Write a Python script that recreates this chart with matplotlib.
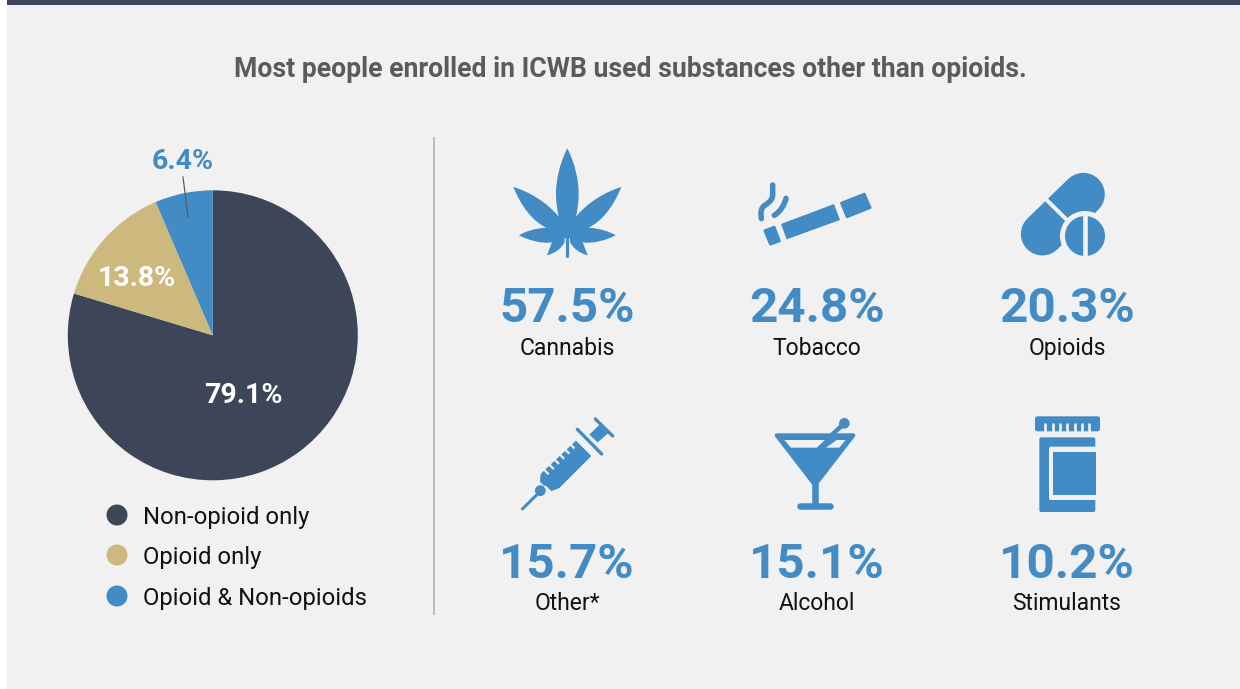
import matplotlib
matplotlib.use("Agg")
import matplotlib.pyplot as plt
from matplotlib.patches import Circle, Polygon, Rectangle, FancyBboxPatch, PathPatch
from matplotlib.path import Path

plt.rcParams['font.family'] = ['Roboto', 'DejaVu Sans']

# Enrolment mix shown in the pie
mix_labels = ["Non-opioid only", "Opioid only", "Opioid & Non-opioids"]
mix_values = [79.1, 13.8, 6.4]

# Substance use rates shown in the icon grid
substances_top = ["Cannabis", "Tobacco", "Opioids"]
rates_top = [57.5, 24.8, 20.3]
substances_bottom = ["Other*", "Alcohol", "Stimulants"]
rates_bottom = [15.7, 15.1, 10.2]

title_text = "Most people enrolled in ICWB used substances other than opioids."

NAVY = "#3d4559"
TAN = "#cdb87e"
BLUE = "#438bc4"
BG = "#f1f1f1"
TITLE_GREY = "#5b5b5b"
INK = "#111111"
PX = 72 / 100  # points per pixel at 100 dpi

fig = plt.figure(figsize=(12.4, 6.89), dpi=100, facecolor="white")
W, H = 1240, 689


def pixel_axes(z):
    a = fig.add_axes([0, 0, 1, 1], zorder=z)
    a.set_xlim(0, W)
    a.set_ylim(H, 0)
    a.axis("off")
    return a


# Panel background sits below the pie; text and icons sit above it
back = pixel_axes(0)
back.add_patch(Rectangle((7, 0), W - 7, H, fc=BG, ec="none"))
back.add_patch(Rectangle((7, 0), W - 7, 5, fc=NAVY, ec="none"))

cx, cy, r = 212.8, 335.3, 145
pie_ax = fig.add_axes([(cx - r) / W, 1 - (cy + r) / H, 2 * r / W, 2 * r / H], zorder=1)
pie_ax.pie(mix_values, colors=[NAVY, TAN, BLUE], startangle=90, counterclock=False,
           radius=1.0, wedgeprops=dict(linewidth=0))
pie_ax.set_xlim(-1, 1)
pie_ax.set_ylim(-1, 1)

ax = pixel_axes(2)
ax.plot([434, 434], [137, 615], color="#bcbcbc", lw=2 * PX, solid_capstyle="butt", zorder=1)

ax.text(630, 77, title_text, ha="center", va="baseline", fontsize=19.15,
        fontweight="bold", color=TITLE_GREY)

pie_label_pos = [(243, 403, "white"), (137, 286, "white"), (183, 169, BLUE)]
for v, (x, y, c) in zip(mix_values, pie_label_pos):
    ax.text(x, y, f"{v}%", ha="center", va="baseline", fontsize=20.5, fontweight="bold", color=c)
ax.plot([183, 188], [177, 217], color="#565b66", lw=1.2 * PX, zorder=3)

legend_y = [515, 555, 596]
for name, c, y in zip(mix_labels, [NAVY, TAN, BLUE], legend_y):
    ax.add_patch(Circle((117, y), 10.5, fc=c, ec="none"))
    ax.text(143, y + 9, name, ha="left", va="baseline", fontsize=17.2, color=INK)

# Icon grid: rate in large blue figures and the substance name below
col_x = [567, 817, 1067]
for names, rates, y_rate, y_name in [(substances_top, rates_top, 322.5, 355),
                                     (substances_bottom, rates_bottom, 577.5, 610)]:
    for x, n, v in zip(col_x, names, rates):
        ax.text(x, y_rate, f"{v}%", ha="center", va="baseline", fontsize=35.6,
                fontweight="bold", color=BLUE)
        ax.text(x, y_name, n, ha="center", va="baseline", fontsize=16.5, color=INK)


def frame(ox, oy):
    """Return a mapper from 3x icon-sketch units to canvas pixels."""
    return lambda x, y: (ox + x / 3, oy + y / 3)


def poly(f, pts, color=BLUE, round_px=0, z=4):
    ax.add_patch(Polygon([f(*p) for p in pts], closed=True, fc=color,
                         ec=color if round_px else "none", lw=round_px * PX,
                         joinstyle="round", zorder=z))


def stroke(f, pts, width_px, color=BLUE, cap="round", z=4):
    xs, ys = zip(*[f(*p) for p in pts])
    ax.plot(xs, ys, color=color, lw=width_px * PX, solid_capstyle=cap, zorder=z)


def curve(f, start, segs, color=BLUE, z=4):
    """Filled shape from cubic segments given as (c1, c2, end); two-tuples are straight lines."""
    verts, codes = [f(*start)], [Path.MOVETO]
    for s in segs:
        if isinstance(s[0], tuple):
            verts += [f(*s[0]), f(*s[1]), f(*s[2])]
            codes += [Path.CURVE4] * 3
        else:
            verts.append(f(*s))
            codes.append(Path.LINETO)
    verts.append(verts[0])
    codes.append(Path.CLOSEPOLY)
    ax.add_patch(PathPatch(Path(verts, codes), fc=color, ec="none", zorder=z))


# Cannabis leaf: right half traced downward, then the left half traced back up
f = frame(480, 130)
right = [(262, 55),
         ((285, 100), (296, 150), (296, 190)),
         ((296, 220), (292, 240), (288, 260)),
         ((320, 220), (375, 185), (424, 171)),
         ((400, 230), (365, 275), (325, 293)),
         ((360, 295), (390, 305), (407, 316)),
         ((380, 330), (340, 342), (308, 337)),
         (323, 376),
         ((295, 368), (280, 355), (270, 336)),
         (270, 325)]
xm = lambda p: (524 - p[0], p[1])
left = [xm((270, 325)), xm((270, 336)),
        (xm((280, 355)), xm((295, 368)), xm((323, 376))),
        xm((308, 337)),
        (xm((340, 342)), xm((380, 330)), xm((407, 316))),
        (xm((390, 305)), xm((360, 295)), xm((325, 293))),
        (xm((365, 275)), xm((400, 230)), xm((424, 171))),
        (xm((375, 185)), xm((320, 220)), xm((288, 260))),
        (xm((292, 240)), xm((296, 220)), xm((296, 190))),
        (xm((296, 150)), xm((285, 100)), (262, 55))]
curve(f, right[0], right[1:] + left)
stroke(f, [(262, 325), (262, 378)], 3.2)

# Cigarette and smoke wisps
poly(f, [(854, 302), (883, 291), (899, 333), (871, 343)], round_px=2.5)
poly(f, [(903, 282), (1062, 222), (1080, 270), (920, 328)])
poly(f, [(1084, 219), (1153, 192), (1171, 233), (1101, 261)], round_px=2.5)
smoke_1 = Path([f(878, 165), f(878, 195), f(878, 210), f(860, 222), f(842, 232), f(843, 250), f(844, 266)],
               [Path.MOVETO, Path.LINETO, Path.CURVE3, Path.CURVE3, Path.CURVE3, Path.CURVE3, Path.LINETO])
smoke_2 = Path([f(918, 205), f(912, 228), f(900, 245), f(883, 256)],
               [Path.MOVETO, Path.CURVE4, Path.CURVE4, Path.CURVE4])
for p in (smoke_1, smoke_2):
    ax.add_patch(PathPatch(p, fc="none", ec=BLUE, lw=5.5 * PX, capstyle="round", zorder=4))

# Capsule and scored tablet
f = frame(980, 150)
stroke(f, [(310, 133), (187, 252)], 43)
stroke(f, [(195, 145), (268, 217)], 4, color=BG, cap="butt", z=5)
ax.add_patch(Circle(f(315, 258), 25, fc=BG, ec="none", zorder=6))
ax.add_patch(Circle(f(315, 258), 20, fc=BLUE, ec="none", zorder=7))
stroke(f, [(315, 190), (315, 325)], 4.6, color=BG, cap="butt", z=8)

# Syringe
f = frame(500, 400)
stroke(f, [(67, 327), (115, 280)], 3)
ax.add_patch(Circle(f(121, 272), 5.4, fc=BLUE, ec="none", zorder=4))
poly(f, [(122, 222), (131, 213), (228, 122), (274, 168), (178, 264), (150, 275), (120, 245)])
stroke(f, [(134, 258), (154, 278)], 2.2, color=BG, cap="butt", z=5)
for k in range(6):
    stroke(f, [(130 + 15.5 * k, 207 - 15.5 * k), (146 + 15.5 * k, 223 - 15.5 * k)], 2.2, color=BG, cap="butt", z=5)
stroke(f, [(232, 88), (305, 162)], 3.3)
poly(f, [(268, 104), (300, 73), (325, 99), (293, 127)])
stroke(f, [(286, 57), (338, 108)], 3.3)

# Martini glass
poly(f, [(830, 106), (1060, 106), (945, 255)], round_px=4)
poly(f, [(853, 120), (975, 120), (950, 143), (873, 143)], color=BG, z=5)
poly(f, [(1010, 120), (1037, 120), (1018, 143), (978, 143)], color=BG, z=5)
stroke(f, [(945, 250), (945, 315)], 6.5, cap="butt")
stroke(f, [(900, 318), (990, 318)], 6.5)
stroke(f, [(992, 108), (1033, 70)], 4.5, z=6)
ax.add_patch(Circle(f(1033, 70), 5.3, fc=BLUE, ec="none", zorder=6))

# Pill bottle
f = frame(1010, 405)


def rrect(x0, y0, x1, y1, rad, color=BLUE, z=4):
    (a, b), (c, d) = f(x0, y0), f(x1, y1)
    ax.add_patch(FancyBboxPatch((a + rad, b + rad), c - a - 2 * rad, d - b - 2 * rad,
                                boxstyle=f"round,pad={rad}", fc=color, ec="none", zorder=z))


rrect(75, 34, 270, 79, 2.5)
for nx in (106, 128, 150, 172, 194, 216, 237):
    stroke(f, [(nx, 55), (nx, 80)], 2.6, color=BG, cap="butt", z=5)
rrect(88, 97, 256, 321, 2)
rrect(117, 125, 275, 285, 2, color=BG, z=5)
a, b = f(129, 141)
ax.add_patch(Rectangle((a, b), 129 / 3, 129 / 3, fc=BLUE, ec="none", zorder=6))

fig.savefig("out.png", dpi=100, facecolor="white")
